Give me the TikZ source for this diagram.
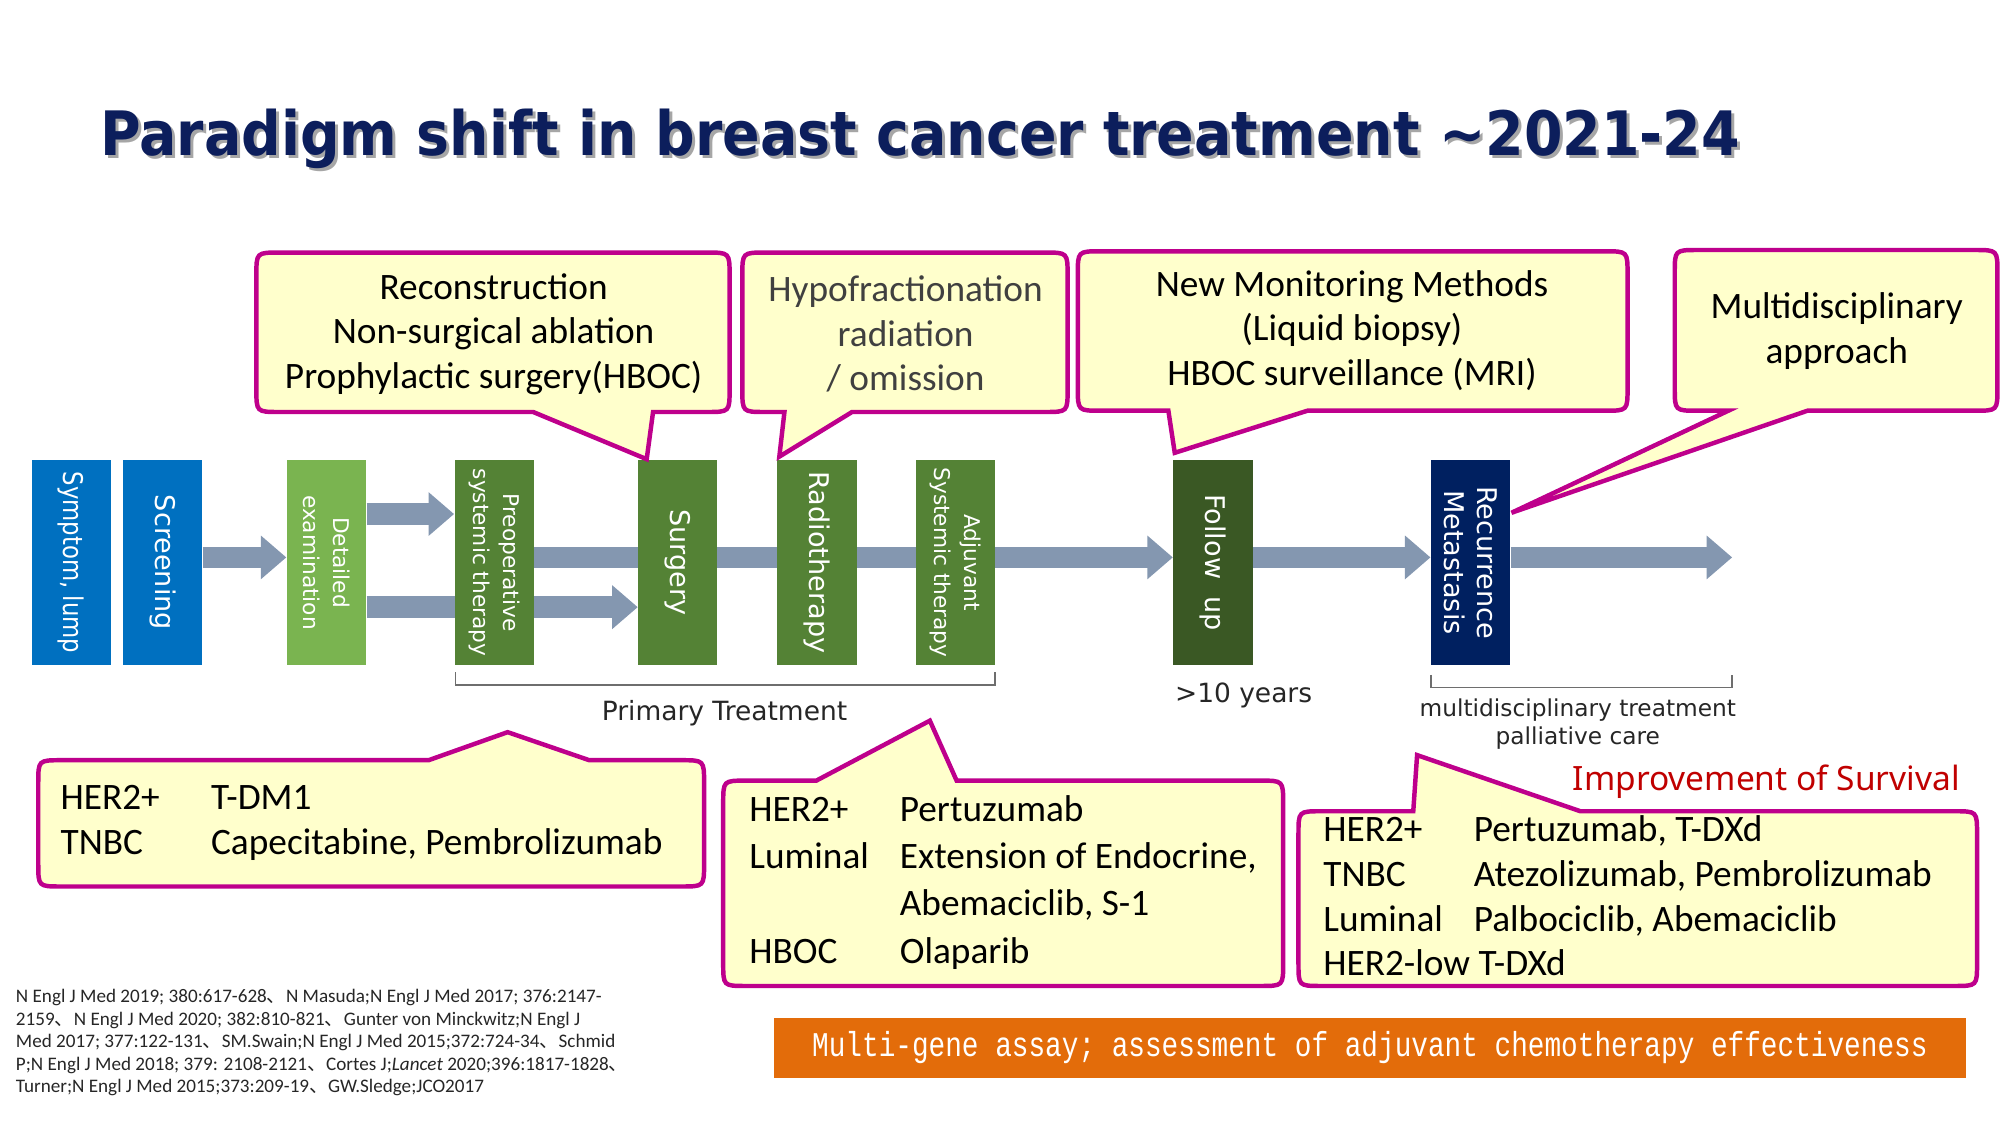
\documentclass[tikz,border=0pt]{standalone}
\usepackage{fontspec}
\setmainfont{Carlito}
\newfontfamily\vfont{DejaVu Sans}
\newfontfamily\mfont{Liberation Mono}
\newfontfamily\nfont{Noto Sans}
\newfontfamily\cjkfont{Noto Sans CJK JP}
\usetikzlibrary{arrows.meta,backgrounds}
\pgfdeclarelayer{canvas}
\pgfsetlayers{canvas,background,main}
\definecolor{blueA}{RGB}{0,112,192}
\definecolor{lgreen}{RGB}{122,180,80}
\definecolor{mgreen}{RGB}{84,130,53}
\definecolor{dgreen}{RGB}{58,88,36}
\definecolor{navyA}{RGB}{0,32,96}
\definecolor{titlec}{RGB}{12,30,92}
\definecolor{arrowc}{RGB}{132,151,176}
\definecolor{magc}{RGB}{190,0,140}
\definecolor{callfill}{RGB}{255,255,204}
\definecolor{orangeA}{RGB}{227,108,10}
\definecolor{redA}{RGB}{192,0,0}
\definecolor{brk}{RGB}{110,110,110}
\newcommand{\jc}{{\cjkfont 、}}
\newcommand{\calloutdown}[7]{%
 \draw[co] ({#1+18},#2) -- ({#3-18},#2) .. controls (#3,#2) .. (#3,{#2+18}) -- (#3,{#4-18}) .. controls (#3,#4) .. ({#3-18},#4) -- (#6,#4) -- (#7) -- (#5,#4) -- ({#1+18},#4) .. controls (#1,#4) .. (#1,{#4-18}) -- (#1,{#2+18}) .. controls (#1,#2) .. ({#1+18},#2) -- cycle;}
\newcommand{\calloutup}[7]{%
 \draw[co] ({#1+18},#2) -- (#5,#2) -- (#7) -- (#6,#2) -- ({#3-18},#2) .. controls (#3,#2) .. (#3,{#2+18}) -- (#3,{#4-18}) .. controls (#3,#4) .. ({#3-18},#4) -- ({#1+18},#4) .. controls (#1,#4) .. (#1,{#4-18}) -- (#1,{#2+18}) .. controls (#1,#2) .. ({#1+18},#2) -- cycle;}
\begin{document}
\begin{tikzpicture}[x=0.4pt,y=-0.4pt,
  stage/.style={rotate=-90, minimum width=64pt, minimum height=24.8pt, inner sep=0pt, text=white, align=center, font=\vfont\fontsize{8.5}{10.6}\selectfont},
  small/.style={font=\vfont\fontsize{6.8}{9.4}\selectfont},
  fat/.style={draw=arrowc, line width=6.8pt, -{Triangle[length=8pt,width=13.2pt]}},
  co/.style={draw=magc, fill=callfill, line width=1.4pt},
  ctext/.style={align=center, inner sep=0pt, font=\fontsize{11.7}{14}\selectfont},
  ltext/.style={anchor=west, inner sep=0pt, font=\fontsize{11.7}{14}\selectfont},
  lab/.style={inner sep=0pt, font=\vfont\fontsize{8.3}{10}\selectfont, text=black!85},
  brack/.style={draw=brk, line width=0.5pt}]
\useasboundingbox (0,0) rectangle (1568,882);
\begin{pgfonlayer}{canvas}
\fill[white] (0,0) rectangle (1568,882);
\end{pgfonlayer}
% title
\node[anchor=base west, inner sep=0pt, text=black!35, font=\vfont\bfseries\fontsize{19.2}{22}\selectfont] (tshadow) at (80.5,124.5) {\scalebox{0.905}[1]{Paradigm shift in breast cancer treatment ∼2021-24}};
\node[anchor=base west, inner sep=0pt, text=titlec, font=\vfont\bfseries\fontsize{19.2}{22}\selectfont] (title) at (78,122) {\scalebox{0.905}[1]{Paradigm shift in breast cancer treatment ∼2021-24}};
% stages
\node[stage, fill=blueA] (sym) at (56,441) {\scalebox{0.84}[1]{Symptom, lump}};
\node[stage, fill=blueA] (scr) at (127.5,441) {Screening};
\node[stage, fill=lgreen, small] (det) at (256,441) {Detailed\\examination};
\node[stage, fill=mgreen, small] (pre) at (387.5,441) {Preoperative\\systemic therapy};
\node[stage, fill=mgreen] (sur) at (531.5,441) {Surgery};
\node[stage, fill=mgreen] (rad) at (640.5,441) {Radiotherapy};
\node[stage, fill=mgreen, small] (adj) at (749,441) {Adjuvant\\Systemic therapy};
\node[stage, fill=dgreen] (fol) at (951,441) {Follow\ \ up};
\node[stage, fill=navyA] (rec) at (1153,441) {Recurrence\\Metastasis};
% arrows
\coordinate (ymid) at (0,437);
\coordinate (yup) at (0,403);
\coordinate (ylow) at (0,476);
\coordinate (endpt) at (1358,437);
\begin{pgfonlayer}{background}
\draw[fat] (scr.north |- ymid) -- (det.south |- ymid);
\draw[fat] (det.north |- yup) -- (pre.south |- yup);
\draw[fat] (det.north |- ylow) -- (sur.south |- ylow);
\draw[fat] (pre.north |- ymid) -- (fol.south |- ymid);
\draw[fat] (fol.north |- ymid) -- (rec.south |- ymid);
\draw[fat] (rec.north |- ymid) -- (endpt);
\end{pgfonlayer}
% brackets
\draw[brack] (357,527) -- (357,537) -- (780,537) -- (780,527);
\draw[brack] (1122,529) -- (1122,539) -- (1358,539) -- (1358,529);
\node[lab] (prim) at (568,559) {Primary Treatment};
\node[lab] (yrs) at (975,545) {>10 years};
\node[lab, align=center, font=\vfont\fontsize{7.3}{8.8}\selectfont] (mdt) at (1237,568) {multidisciplinary treatment\\palliative care};
% top callouts
\calloutdown{201}{198}{572}{323}{418}{512}{507,360}
\node[ctext] (c1) at (387,262) {Reconstruction\\Non-surgical ablation\\Prophylactic surgery(HBOC)};
\calloutdown{582}{198}{837}{323}{615}{668}{611,358}
\node[ctext, text=black!75] (c2) at (710,262) {Hypofractionation\\radiation\\/ omission};
\calloutdown{845}{197}{1276}{322}{916}{1025}{921,355}
\node[ctext] (c3) at (1060,259) {New Monitoring Methods\\(Liquid biopsy)\\HBOC surveillance (MRI)};
\calloutdown{1313}{196}{1566}{322}{1355}{1417}{1185,402}
\node[ctext] (c4) at (1440,259.5) {Multidisciplinary\\approach};
% bottom callouts
\calloutup{30}{596}{552}{695}{336}{462}{398,574}
\node[ltext] (c5) at (47,645.5) {\begin{tabular}{@{}p{47.2pt}@{}l@{}}HER2+ & T-DM1\\TNBC & Capecitabine, Pembrolizumab\end{tabular}};
\calloutup{567}{612}{1006}{773}{640}{750}{729,565}
\node[ltext] (c6) at (587,692) {\renewcommand{\arraystretch}{1.06}\begin{tabular}{@{}p{47.2pt}@{}l@{}}HER2+ & Pertuzumab\\Luminal & Extension of Endocrine,\\ & Abemaciclib, S-1\\HBOC & Olaparib\end{tabular}};
\calloutup{1018}{636}{1550}{773}{1108}{1239}{1111,592}
\node[ltext] (c7) at (1037,705.5) {\begin{tabular}{@{}p{47.2pt}@{}l@{}}HER2+ & Pertuzumab, T-DXd\\TNBC & Atezolizumab, Pembrolizumab\\Luminal & Palbociclib, Abemaciclib\\\multicolumn{2}{@{}l@{}}{HER2-low T-DXd}\end{tabular}};
\node[anchor=east, inner sep=0pt, text=redA, font=\nfont\fontsize{10.5}{12}\selectfont] (surv) at (1537,613) {Improvement of Survival};
% orange bar
\node[fill=orangeA, minimum width=373.6pt, minimum height=18.8pt, inner sep=0pt, text=white, font=\mfont\fontsize{8.7}{10}\selectfont] (bar) at (1074,821.5) {\scalebox{1}[1.25]{Multi-gene assay; assessment of adjuvant chemotherapy effectiveness}};
% references
\node[anchor=north west, inner sep=0pt, align=left, font=\fontsize{6}{7.08}\selectfont, text=black!85] (refs) at (12,775) {N Engl J Med 2019; 380:617-628\jc N Masuda;N Engl J Med 2017; 376:2147-\\2159\jc N Engl J Med 2020; 382:810-821\jc Gunter von Minckwitz;N Engl J\\Med 2017; 377:122-131\jc SM.Swain;N Engl J Med 2015;372:724-34\jc Schmid\\P;N Engl J Med 2018; 379: 2108-2121\jc Cortes J;\textit{Lancet} 2020;396:1817-1828\jc\\Turner;N Engl J Med 2015;373:209-19\jc GW.Sledge;JCO2017};
\end{tikzpicture}
\end{document}
